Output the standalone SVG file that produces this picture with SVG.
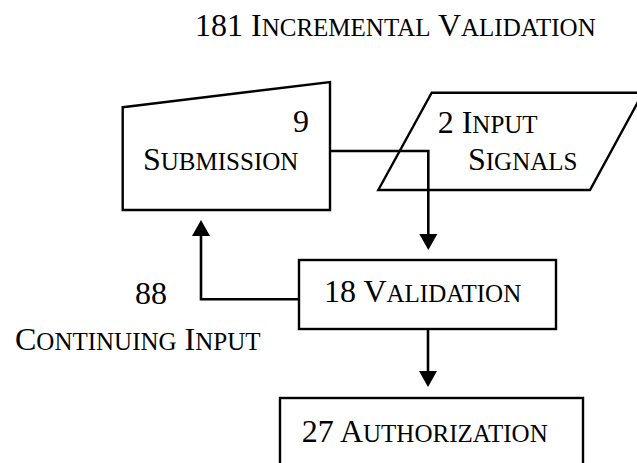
<svg xmlns="http://www.w3.org/2000/svg" width="637" height="463" viewBox="0 0 637 463">
<defs>
<marker id="arr" markerUnits="userSpaceOnUse" markerWidth="16" markerHeight="18" refX="0" refY="9" orient="auto" overflow="visible">
<path d="M0,0 L16,9 L0,18 Z" fill="#000"/>
</marker>
<style>
.t{font-family:"Liberation Serif","Times New Roman",serif;font-size:32px;fill:#000}
.s{font-size:25px}
.box{fill:#fff;stroke:#000;stroke-width:2.4}
.conn path{fill:none;stroke:#000;stroke-width:2.6;marker-end:url(#arr)}
</style>
</defs>
<rect width="637" height="463" fill="#fff"/>
<text class="t" x="195" y="36">181 I<tspan class="s">NCREMENTAL</tspan> V<tspan class="s">ALIDATION</tspan></text>
<g id="submission">
<polygon class="box" points="122.7,107.3 330,82 330,210 122.7,210"/>
<text class="t" x="293" y="132">9</text>
<text class="t" x="143" y="170">S<tspan class="s">UBMISSION</tspan></text>
</g>
<g id="input-signals">
<polygon class="box" points="431.7,92.7 643,92.7 590,190 378.3,190"/>
<text class="t" x="437.7" y="132.7">2 I<tspan class="s">NPUT</tspan></text>
<text class="t" x="468" y="170">S<tspan class="s">IGNALS</tspan></text>
</g>
<g id="validation">
<rect class="box" x="299" y="260" width="257" height="69"/>
<text class="t" x="324" y="301.7">18 V<tspan class="s">ALIDATION</tspan></text>
</g>
<g id="authorization">
<rect class="box" x="280" y="398" width="303" height="80"/>
<text class="t" x="301.7" y="441.7">27 A<tspan class="s">UTHORIZATION</tspan></text>
</g>
<g id="continuing-input">
<text class="t" x="135" y="304.3">88</text>
<text class="t" x="15" y="350">C<tspan class="s">ONTINUING</tspan> I<tspan class="s">NPUT</tspan></text>
</g>
<g class="conn" id="connectors">
<path d="M330,151 H428.3 V234"/>
<path d="M299,299.3 H201 V236"/>
<path d="M428,329 V371"/>
</g>
</svg>
